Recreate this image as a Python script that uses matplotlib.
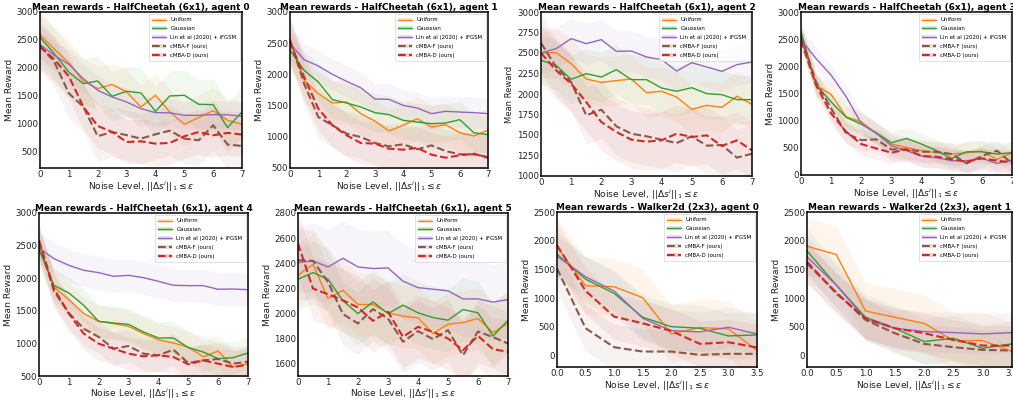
import matplotlib
matplotlib.use("Agg")
import matplotlib.pyplot as plt
from matplotlib.lines import Line2D
from matplotlib.patches import Patch
from matplotlib.ticker import MultipleLocator, FormatStrFormatter
import numpy as np

# ---------------- data ----------------
x_hc = [0, 0.5, 1, 1.5, 2, 2.5, 3, 3.5, 4, 4.5, 5, 5.5, 6, 6.5, 7]
x_wk = [0, 0.5, 1, 1.5, 2, 2.5, 3, 3.5]

series_names = ["Uniform", "Gaussian", "Lin et al (2020) + iFGSM", "cMBA-F (ours)", "cMBA-D (ours)"]

hc0_uniform  = [2590, 2330, 2090, 1760, 1625, 1700, 1565, 1295, 1505, 1206, 985, 1105, 1230, 1056, 985]
hc0_gaussian = [2550, 2250, 1920, 1714, 1762, 1487, 1577, 1547, 1218, 1493, 1505, 1343, 1337, 925, 1206]
hc0_lin      = [2414, 2220, 2061, 1804, 1595, 1475, 1385, 1265, 1194, 1190, 1146, 1145, 1158, 1155, 1128]
hc0_cmbaf    = [2400, 2100, 1540, 1300, 770, 847, 790, 727, 805, 870, 727, 697, 967, 620, 596]
hc0_cmbad    = [2372, 2150, 1846, 1300, 955, 847, 667, 679, 637, 650, 770, 847, 787, 830, 800]
hc0_std      = [400, 450, 250, 450, 400]

hc1_uniform  = [2546, 1905, 1691, 1542, 1558, 1371, 1253, 1093, 1184, 1290, 1157, 1195, 1066, 1013, 1104]
hc1_gaussian = [2386, 2065, 1878, 1595, 1542, 1478, 1387, 1355, 1264, 1237, 1210, 1221, 1275, 1066, 1034]
hc1_lin      = [2493, 2236, 2135, 2001, 1889, 1787, 1606, 1600, 1504, 1461, 1371, 1408, 1397, 1387, 1371]
hc1_cmbaf    = [2557, 1850, 1317, 1184, 1050, 997, 901, 847, 880, 800, 863, 772, 719, 719, 676]
hc1_cmbad    = [2519, 1958, 1451, 1184, 1024, 901, 890, 810, 794, 821, 714, 665, 703, 730, 660]
hc1_std      = [350, 300, 250, 350, 350]

hc2_uniform  = [2500, 2504, 2370, 2183, 2142, 2163, 2183, 2016, 2033, 1963, 1813, 1862, 1837, 1972, 1874]
hc2_gaussian = [2411, 2350, 2179, 2248, 2207, 2297, 2175, 2175, 2073, 2033, 2077, 2004, 1992, 1931, 1931]
hc2_lin      = [2500, 2553, 2675, 2614, 2663, 2520, 2524, 2451, 2419, 2280, 2382, 2329, 2276, 2358, 2390]
hc2_cmbaf    = [2622, 2329, 2146, 1740, 1809, 1606, 1516, 1484, 1443, 1402, 1484, 1370, 1378, 1224, 1272]
hc2_cmbad    = [2500, 2289, 2126, 1902, 1659, 1537, 1443, 1419, 1435, 1516, 1476, 1496, 1366, 1435, 1313]
hc2_std      = [300, 300, 250, 350, 350]

hc3_uniform  = [2602, 1653, 1481, 1071, 979, 765, 569, 508, 447, 410, 385, 410, 440, 287, 410]
hc3_gaussian = [2633, 1653, 1347, 1059, 936, 777, 594, 673, 569, 447, 306, 428, 428, 385, 410]
hc3_lin      = [2492, 2143, 1837, 1439, 949, 765, 538, 447, 349, 318, 263, 263, 306, 214, 275]
hc3_cmbaf    = [2541, 1714, 1224, 765, 642, 655, 471, 471, 428, 428, 385, 214, 349, 447, 214]
hc3_cmbad    = [2480, 1653, 1132, 796, 569, 489, 410, 471, 349, 336, 287, 245, 306, 263, 232]
hc3_std      = [200, 200, 200, 200, 200]

hc4_uniform  = [2504, 1865, 1671, 1456, 1338, 1303, 1262, 1149, 1057, 1006, 945, 792, 883, 638, 689]
hc4_gaussian = [2438, 1891, 1773, 1584, 1338, 1313, 1292, 1175, 1083, 1083, 935, 868, 766, 781, 853]
hc4_lin      = [2463, 2300, 2197, 2121, 2085, 2029, 2044, 2008, 1952, 1891, 1886, 1886, 1830, 1834, 1824]
hc4_cmbaf    = [2555, 1804, 1466, 1226, 1098, 919, 960, 843, 817, 904, 699, 740, 761, 689, 720]
hc4_cmbad    = [2581, 1839, 1456, 1149, 996, 919, 843, 802, 817, 792, 679, 740, 689, 638, 674]
hc4_std      = [250, 250, 250, 250, 250]

hc5_uniform  = [2304, 2391, 2118, 2184, 2070, 2070, 2004, 1977, 1964, 1839, 1913, 1927, 1958, 1847, 1919]
hc5_gaussian = [2272, 2325, 2272, 2099, 1998, 2091, 1998, 2065, 2004, 1966, 1945, 2030, 2004, 1818, 1945]
hc5_lin      = [2404, 2418, 2370, 2439, 2370, 2357, 2362, 2256, 2205, 2192, 2179, 2115, 2115, 2089, 2110]
hc5_cmbaf    = [2423, 2418, 2250, 1993, 1919, 2033, 1958, 1773, 1858, 1794, 1866, 1666, 1855, 1810, 1759]
hc5_cmbad    = [2556, 2197, 2152, 2104, 2046, 1940, 2012, 1812, 1892, 1852, 1799, 1706, 1820, 1714, 1693]
hc5_std      = [250, 250, 300, 250, 250]

wk0_uniform  = [1892, 1215, 1198, 1007, 376, 486, 463, 87]
wk0_gaussian = [1765, 1331, 1082, 666, 503, 475, 341, 359]
wk0_lin      = [1730, 1372, 1123, 648, 434, 411, 492, 376]
wk0_cmbaf    = [1516, 475, 145, 69, 69, 12, 29, 29]
wk0_cmbad    = [1921, 1128, 677, 561, 428, 203, 231, 139]
wk0_std      = [500, 400, 350, 400, 400]

wk1_uniform  = [1904, 1759, 775, 666, 561, 260, 260, 69]
wk1_gaussian = [1823, 1227, 666, 475, 243, 301, 127, 203]
wk1_lin      = [1719, 1227, 631, 475, 417, 399, 376, 399]
wk1_cmbaf    = [1603, 1100, 619, 388, 203, 145, 98, 87]
wk1_cmbad    = [1632, 1082, 648, 475, 388, 272, 174, 174]
wk1_std      = [500, 400, 350, 350, 350]

titles = [
    "Mean rewards - HalfCheetah (6x1), agent 0",
    "Mean rewards - HalfCheetah (6x1), agent 1",
    "Mean rewards - HalfCheetah (6x1), agent 2",
    "Mean rewards - HalfCheetah (6x1), agent 3",
    "Mean rewards - HalfCheetah (6x1), agent 4",
    "Mean rewards - HalfCheetah (6x1), agent 5",
    "Mean rewards - Walker2d (2x3), agent 0",
    "Mean rewards - Walker2d (2x3), agent 1",
]

panels = [
    (x_hc, [hc0_uniform, hc0_gaussian, hc0_lin, hc0_cmbaf, hc0_cmbad], hc0_std),
    (x_hc, [hc1_uniform, hc1_gaussian, hc1_lin, hc1_cmbaf, hc1_cmbad], hc1_std),
    (x_hc, [hc2_uniform, hc2_gaussian, hc2_lin, hc2_cmbaf, hc2_cmbad], hc2_std),
    (x_hc, [hc3_uniform, hc3_gaussian, hc3_lin, hc3_cmbaf, hc3_cmbad], hc3_std),
    (x_hc, [hc4_uniform, hc4_gaussian, hc4_lin, hc4_cmbaf, hc4_cmbad], hc4_std),
    (x_hc, [hc5_uniform, hc5_gaussian, hc5_lin, hc5_cmbaf, hc5_cmbad], hc5_std),
    (x_wk, [wk0_uniform, wk0_gaussian, wk0_lin, wk0_cmbaf, wk0_cmbad], wk0_std),
    (x_wk, [wk1_uniform, wk1_gaussian, wk1_lin, wk1_cmbaf, wk1_cmbad], wk1_std),
]

# ---------------- styling / layout ----------------
colors = ["#ff7f0e", "#2ca02c", "#9467bd", "#8c564b", "#d62728"]
styles = ["-", "-", "-", "--", "--"]
widths = [1.0, 1.0, 1.0, 1.5, 1.5]

W, H = 1013, 400
# left, right, top, bottom in pixels
boxes = [
    (40, 242, 12, 168),
    (290, 488, 12, 168),
    (541, 752, 12, 176),
    (801, 1012, 12, 175),
    (39, 248, 213, 376),
    (298, 508, 213, 376),
    (557, 757, 212, 367),
    (807, 1012, 212, 367),
]
ylims = [(200, 3000), (500, 3000), (1000, 3000), (0, 3000),
         (500, 3000), (1500, 2800), (-200, 2500), (-200, 2500)]
ysteps = [500, 500, 250, 500, 500, 200, 500, 500]

fig = plt.figure(figsize=(W / 100, H / 100), dpi=100)
fig.patch.set_facecolor("white")

xlabel = r"Noise Level, $||\Delta s^i||_1 \leq \varepsilon$"

for i, (xs, ys_list, stds) in enumerate(panels):
    l, r, t, b = boxes[i]
    ax = fig.add_axes([l / W, 1 - b / H, (r - l) / W, (b - t) / H])
    xs_arr = np.array(xs)
    for k, ys in enumerate(ys_list):
        ys_arr = np.array(ys, dtype=float)
        ax.fill_between(xs_arr, ys_arr - stds[k], ys_arr + stds[k],
                        color=colors[k], alpha=0.07, linewidth=0)
        ax.plot(xs_arr, ys_arr, color=colors[k], linestyle=styles[k],
                linewidth=widths[k])
    ax.set_xlim(xs[0], xs[-1])
    ax.set_ylim(*ylims[i])
    ax.yaxis.set_major_locator(MultipleLocator(ysteps[i]))
    if xs[-1] == 7:
        ax.xaxis.set_major_locator(MultipleLocator(1))
    else:
        ax.xaxis.set_major_locator(MultipleLocator(0.5))
        ax.xaxis.set_major_formatter(FormatStrFormatter("%.1f"))
    ax.tick_params(axis="both", length=0, pad=1.2, labelsize=6.2, colors="#222222")
    for sp in ax.spines.values():
        sp.set_linewidth(1.1)
        sp.set_color("black")
    ax.set_title(titles[i], fontsize=6.4, fontweight="bold", pad=1.5)
    ax.set_xlabel(xlabel, fontsize=6.6, labelpad=(0.0 if b > 370 else 0.8), color="#222222")
    if i == 2:
        ax.set_ylabel("Mean Reward", fontsize=6.0, color="#222222")
        ax.yaxis.set_label_coords((514 - l) / (r - l), 0.5)
    else:
        ax.set_ylabel("Mean Reward", fontsize=6.6, labelpad=2, color="#222222")

    handles = []
    for k in range(5):
        handles.append((Patch(facecolor=colors[k], alpha=0.2, linewidth=0),
                        Line2D([], [], color=colors[k], linestyle=styles[k], linewidth=widths[k])))
    leg = ax.legend(handles, series_names, loc="upper right", fontsize=3.9,
                    frameon=True, fancybox=False, edgecolor="#cccccc",
                    borderpad=0.6, labelspacing=0.7, handlelength=2.6,
                    borderaxespad=0.4)
    leg.get_frame().set_linewidth(0.5)

fig.savefig("out.png", dpi=100, facecolor="white")
